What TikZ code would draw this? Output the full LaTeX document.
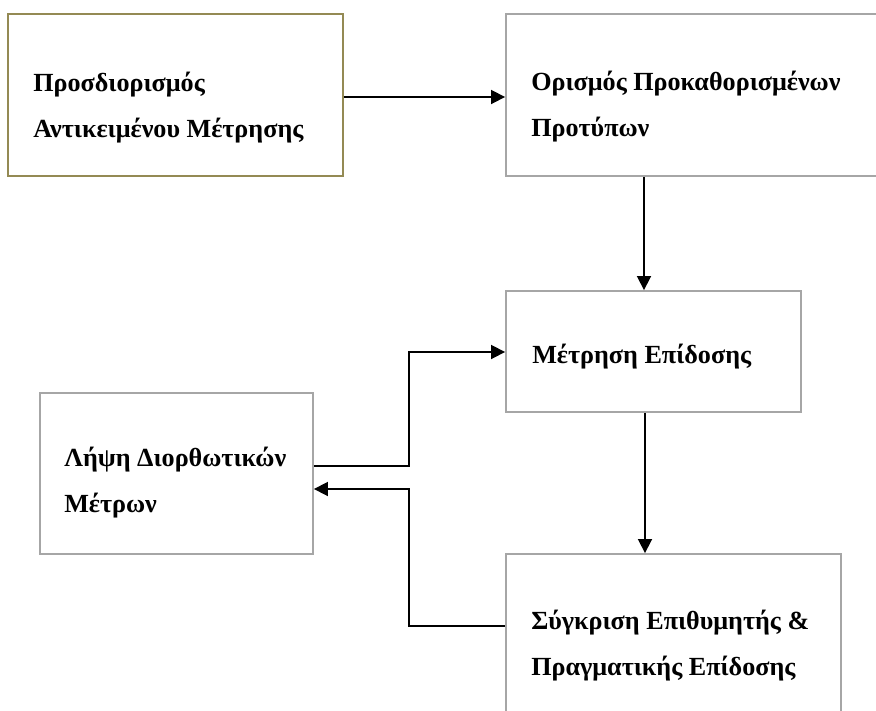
\documentclass[tikz,border=0pt]{standalone}
\usepackage{fontspec}
\setmainfont{Liberation Serif}
\usetikzlibrary{arrows.meta}
\definecolor{boxgray}{HTML}{A6A6A6}
\definecolor{boxolive}{HTML}{948A54}
\begin{document}
\begin{tikzpicture}[x=0.75pt,y=-0.75pt,
  stage/.style={draw=boxgray,line width=1.4pt,rectangle,inner sep=0pt},
  label/.style={anchor=base west,inner sep=0pt,font=\fontsize{19.6}{34.5}\selectfont\bfseries,align=left},
  arr/.style={line width=1.3pt,-{Triangle[length=10.5pt,width=10.5pt]}}]
\useasboundingbox (0,0) rectangle (876,711);
\clip (0,0) rectangle (876,711);
% boxes
\node[stage,draw=boxolive,minimum width=251.25pt,minimum height=121.5pt] (b1) at (175.5,95) {};
\node[stage,minimum width=288pt,minimum height=121.5pt] (b2) at (698,95) {};
\node[stage,minimum width=221.25pt,minimum height=90.75pt] (b3) at (653.5,351.5) {};
\node[stage,minimum width=204.75pt,minimum height=120.75pt] (b4) at (176.5,473.5) {};
\node[stage,minimum width=251.25pt,minimum height=124.5pt] (b5) at (673.5,637) {};
% labels (anchored at the baseline of their last line)
\node[label] (t1) at (33,137) {Προσδιορισμός\\Αντικειμένου Μέτρησης};
\node[label] (t2) at (531,136) {Ορισμός Προκαθορισμένων\\Προτύπων};
\node[label] (t3) at (532,363) {Μέτρηση Επίδοσης};
\node[label] (t4) at (64,512) {Λήψη Διορθωτικών\\Μέτρων};
\node[label] (t5) at (531,675) {Σύγκριση Επιθυμητής \&\\Πραγματικής Επίδοσης};
% connectors
\coordinate (jx) at (409,0);
\draw[arr] (b1.east |- 0,97) -- (b2.west |- 0,97);
\draw[arr] (b2.south -| 644,0) -- (b3.north -| 644,0);
\draw[arr] (b3.south -| 645,0) -- (b5.north -| 645,0);
\draw[arr] (b4.east |- 0,466) -- (jx |- 0,466) -- (jx |- 0,352) -- (b3.west |- 0,352);
\draw[arr] (b5.west |- 0,626) -- (jx |- 0,626) -- (jx |- 0,489) -- (b4.east |- 0,489);
\end{tikzpicture}
\end{document}
